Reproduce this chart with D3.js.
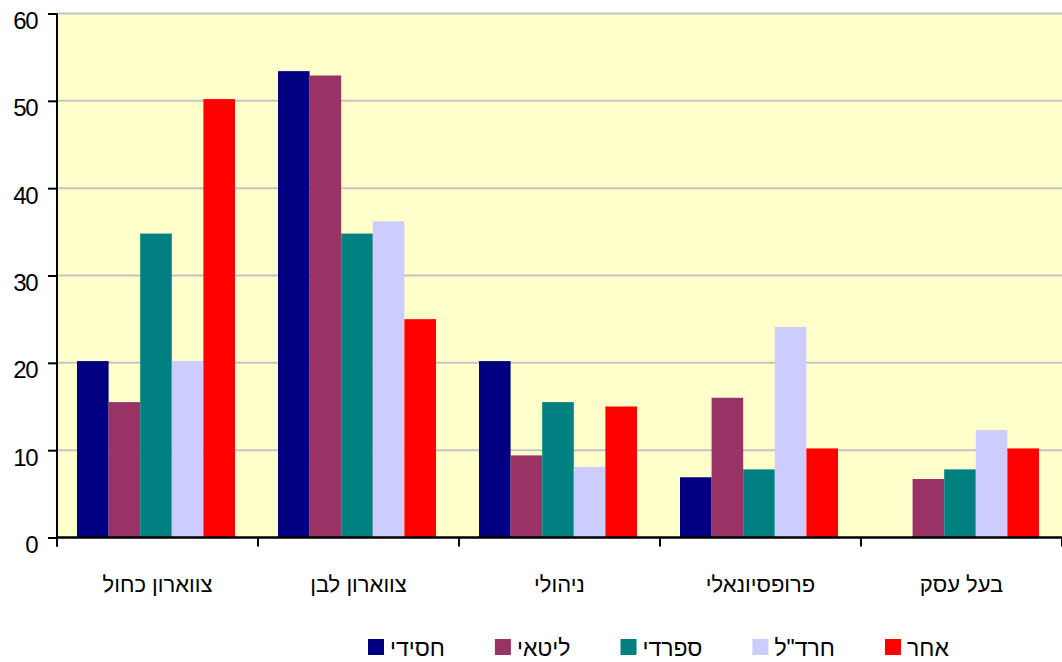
<!DOCTYPE html>
<html>
<head>
<meta charset="utf-8">
<script src="https://d3js.org/d3.v7.min.js"></script>
<style>
  body { margin: 0; background: #fff; }
  svg { display: block; font-family: "Liberation Sans", Arial, sans-serif; }
</style>
</head>
<body>
<svg id="drawing_region"></svg>
<script>
// data
const categories = ["צווארון כחול", "צווארון לבן", "ניהולי", "פרופסיונאלי", "בעל עסק"];
const series = ["חסידי", "ליטאי", "ספרדי", "חרד\"ל", "אחר"];
const hasidi  = [20.2, 53.4, 20.2, 6.9, 0];
const litai   = [15.5, 52.9, 9.4, 16.0, 6.7];
const sfaradi = [34.8, 34.8, 15.5, 7.8, 7.8];
const hardal  = [20.2, 36.2, 8.1, 24.1, 12.3];
const aher    = [50.2, 25.0, 15.0, 10.2, 10.2];
const yTicks  = [0, 10, 20, 30, 40, 50, 60];
const colors  = ["#000080", "#993366", "#008080", "#ccccff", "#ff0000"];

const values = [hasidi, litai, sfaradi, hardal, aher];

const config = {
    width: 1062,
    height: 662,
    margin: {top: 13.5, right: 0, bottom: 124.5, left: 57}
};

const svg = d3.select('#drawing_region')
    .attr('width', config.width)
    .attr('height', config.height);

const inner_width = config.width - config.margin.left - config.margin.right;
const inner_height = config.height - config.margin.top - config.margin.bottom;

const chart = svg.append('g')
    .attr('transform', `translate(${config.margin.left}, ${config.margin.top})`);

const xscale = d3.scaleBand()
    .domain(categories)
    .range([0, inner_width])
    .paddingInner(0)
    .paddingOuter(0);

const xinner = d3.scaleBand()
    .domain(series)
    .range([20, xscale.bandwidth() - 23])
    .padding(0);

const yscale = d3.scaleLinear()
    .domain([0, 60])
    .range([inner_height, 0]);

// plot background
chart.append('rect')
    .attr('x', 0)
    .attr('y', 0)
    .attr('width', inner_width)
    .attr('height', inner_height)
    .attr('fill', '#ffffcc');

// gridlines
chart.append('g')
    .selectAll('line')
    .data(yTicks.filter(d => d > 0))
    .join('line')
    .attr('x1', 0)
    .attr('x2', inner_width)
    .attr('y1', d => yscale(d))
    .attr('y2', d => yscale(d))
    .attr('stroke', '#c4c4c4')
    .attr('stroke-width', 2);

// bars
const groups = chart.append('g')
    .selectAll('g')
    .data(categories)
    .join('g')
    .attr('transform', d => `translate(${xscale(d)}, 0)`);

groups.selectAll('rect')
    .data((c, i) => series.map((s, j) => ({s: s, v: values[j][i], color: colors[j]})))
    .join('rect')
    .attr('x', d => xinner(d.s))
    .attr('y', d => yscale(d.v))
    .attr('width', xinner.bandwidth())
    .attr('height', d => inner_height - yscale(d.v))
    .attr('fill', d => d.color);

// y axis
const yaxis = d3.axisLeft(yscale)
    .tickValues(yTicks)
    .tickSize(9)
    .tickPadding(11)
    .tickSizeOuter(0);

const yaxis_group = chart.append('g')
    .call(yaxis)
    .attr('font-size', 24)
    .attr('font-family', '"Liberation Sans", Arial, sans-serif');
yaxis_group.select('.domain')
    .attr('stroke', '#000')
    .attr('stroke-width', 2)
    .attr('d', `M0,0V${inner_height + 9}`);
yaxis_group.selectAll('.tick line')
    .attr('stroke', '#000')
    .attr('stroke-width', 2);
// labels sit a little below their ticks, as in the original
yaxis_group.selectAll('.tick text')
    .style('font-size', '24px')
    .attr('dy', '0.63em')
    .attr('letter-spacing', '-1.5px')
    .attr('fill', '#000');

// x axis: ticks sit on the category boundaries
const boundaries = categories.map(c => xscale(c)).concat([inner_width]);

const xaxis_group = chart.append('g')
    .attr('transform', `translate(0, ${inner_height})`);

xaxis_group.append('line')
    .attr('x1', 0)
    .attr('x2', inner_width)
    .attr('y1', 0)
    .attr('y2', 0)
    .attr('stroke', '#000')
    .attr('stroke-width', 2.5);

xaxis_group.selectAll('line.tick')
    .data(boundaries)
    .join('line')
    .attr('class', 'tick')
    .attr('x1', d => d)
    .attr('x2', d => d)
    .attr('y1', 0)
    .attr('y2', 9)
    .attr('stroke', '#000')
    .attr('stroke-width', 2);

xaxis_group.selectAll('text')
    .data(categories)
    .join('text')
    .attr('x', d => xscale(d) + xscale.bandwidth() / 2)
    .attr('y', 54)
    .attr('text-anchor', 'middle')
    .attr('font-size', '22px')
    .attr('font-family', '"Liberation Sans", Arial, sans-serif')
    .attr('fill', '#000')
    .text(d => d);

// legend
const legend = svg.append('g')
    .attr('transform', 'translate(368, 639)');

let lx = 0;
series.forEach((s, i) => {
    const item = legend.append('g').attr('transform', `translate(${lx}, 0)`);
    item.append('rect')
        .attr('width', 16)
        .attr('height', 16)
        .attr('fill', colors[i]);
    const t = item.append('text')
        .attr('x', 22)
        .attr('y', 17)
        .attr('font-size', '23px')
        .attr('font-family', '"Liberation Sans", Arial, sans-serif')
        .attr('fill', '#000')
        .text(s);
    lx += 22 + t.node().getComputedTextLength() + 50;
});
</script>
</body>
</html>
